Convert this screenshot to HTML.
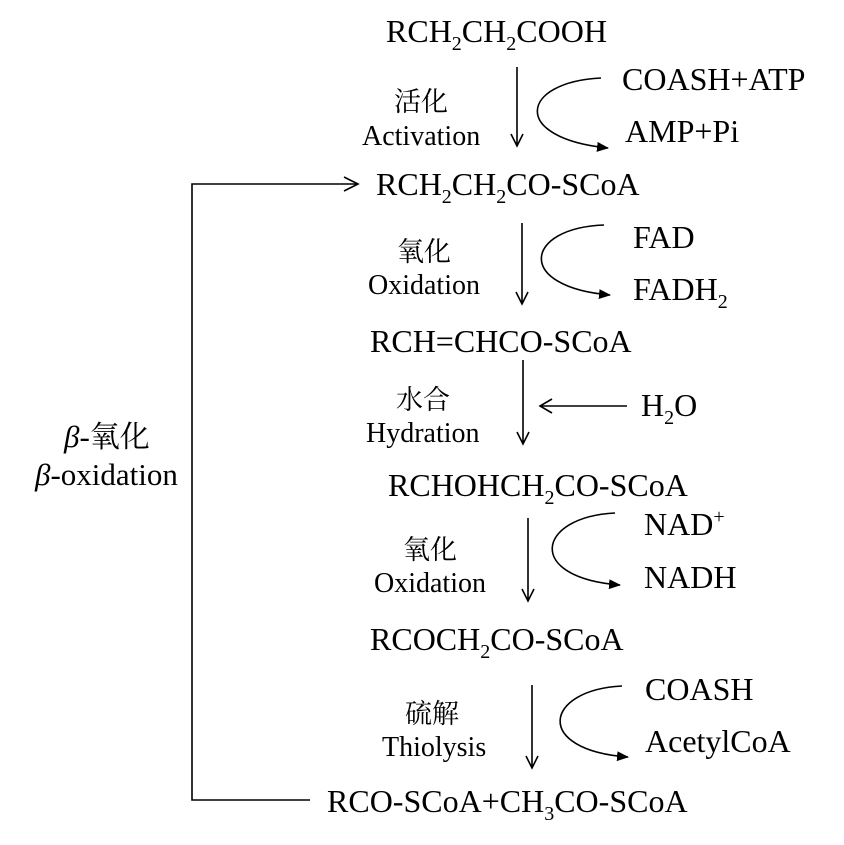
<!DOCTYPE html>
<html><head><meta charset="utf-8"><style>
html,body{margin:0;padding:0;background:#fff}
svg{display:block}
text{font-family:"Liberation Serif","Noto Serif CJK SC",serif;fill:#000}
.m{font-size:32px}
.l{font-size:28px}
.c{font-size:27px;font-family:"Noto Serif CJK SC","Noto Sans CJK SC",serif}
</style></head><body>
<svg width="844" height="845" viewBox="0 0 844 845" xmlns="http://www.w3.org/2000/svg">
<defs>
<marker id="f" markerWidth="12" markerHeight="10" refX="11" refY="5" orient="auto" markerUnits="userSpaceOnUse"><path d="M0,0 L12,5 L0,10 Z" fill="#000"/></marker>
</defs>
<g stroke="#000" stroke-width="1.6" fill="none">
<path d="M310 800 H192 V184 H356"/>
<path d="M344 177 L358 184 L344 191"/>
<path d="M517 67 V145 M511 134 L517 146 L523 134"/>
<path d="M522 223 V303 M516 292 L522 304 L528 292"/>
<path d="M523 360 V443 M517 432 L523 444 L529 432"/>
<path d="M528 518 V600 M522 589 L528 601 L534 589"/>
<path d="M532 685 V767 M526 756 L532 768 L538 756"/>
<path d="M627 406 H540 M552 399 L540 406 L552 413"/>
<path d="M601 78 C520 82, 510 138, 608 148" marker-end="url(#f)"/>
<path d="M604 225 C524 228, 515 287, 610 295" marker-end="url(#f)"/>
<path d="M615 513 C536 517, 525 578, 620 585" marker-end="url(#f)"/>
<path d="M622 686 C544 690, 533 750, 628 757" marker-end="url(#f)"/>
</g>
<text class="m" x="386" y="42">RCH<tspan font-size="20" dy="8">2</tspan><tspan dy="-8">CH</tspan><tspan font-size="20" dy="8">2</tspan><tspan dy="-8">COOH</tspan></text>
<text class="c" x="421" y="111" text-anchor="middle">活化</text>
<text class="l" x="362" y="145">Activation</text>
<text class="m" x="622" y="90">COASH+ATP</text>
<text class="m" x="625" y="142">AMP+Pi</text>

<text class="m" x="376" y="195">RCH<tspan font-size="20" dy="8">2</tspan><tspan dy="-8">CH</tspan><tspan font-size="20" dy="8">2</tspan><tspan dy="-8">CO-SCoA</tspan></text>
<text class="c" x="424" y="261" text-anchor="middle">氧化</text>
<text class="l" x="368" y="294">Oxidation</text>
<text class="m" x="633" y="248">FAD</text>
<text class="m" x="633" y="300">FADH<tspan font-size="20" dy="8">2</tspan></text>

<text class="m" x="370" y="352">RCH=CHCO-SCoA</text>
<text class="c" x="423" y="409" text-anchor="middle">水合</text>
<text class="l" x="366" y="442">Hydration</text>
<text class="m" x="641" y="416">H<tspan font-size="20" dy="8">2</tspan><tspan dy="-8">O</tspan></text>

<text class="m" x="388" y="496">RCHOHCH<tspan font-size="20" dy="8">2</tspan><tspan dy="-8">CO-SCoA</tspan></text>
<text class="c" x="430" y="559" text-anchor="middle">氧化</text>
<text class="l" x="374" y="592">Oxidation</text>
<text class="m" x="644" y="535">NAD<tspan font-size="20" dy="-12">+</tspan></text>
<text class="m" x="644" y="588">NADH</text>

<text class="m" x="370" y="650">RCOCH<tspan font-size="20" dy="8">2</tspan><tspan dy="-8">CO-SCoA</tspan></text>
<text class="c" x="432" y="723" text-anchor="middle">硫解</text>
<text class="l" x="382" y="756">Thiolysis</text>
<text class="m" x="645" y="700">COASH</text>
<text class="m" x="645" y="752">AcetylCoA</text>

<text class="m" x="327" y="812">RCO-SCoA+CH<tspan font-size="20" dy="8">3</tspan><tspan dy="-8">CO-SCoA</tspan></text>

<text font-size="31" x="64" y="447"><tspan font-style="italic">β</tspan>-<tspan font-family="Noto Serif CJK SC, serif" font-size="30">氧化</tspan></text>
<text font-size="31" x="35" y="485"><tspan font-style="italic">β</tspan>-oxidation</text>
</svg>
</body></html>
